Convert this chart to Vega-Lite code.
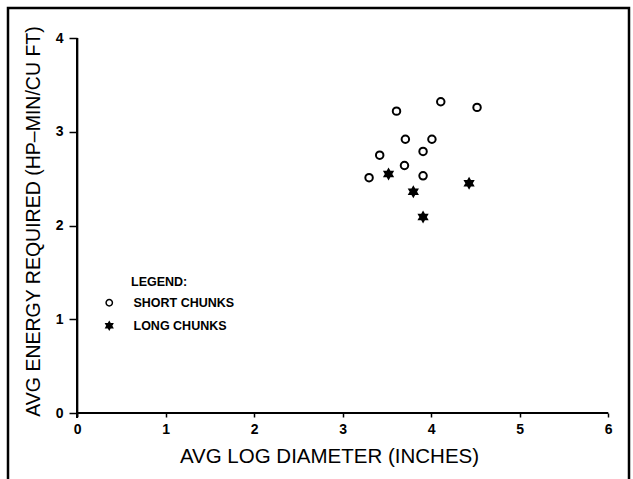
{
  "$schema": "https://vega.github.io/schema/vega-lite/v6.json",
  "width": 621,
  "height": 477,
  "autosize": {"type": "none"},
  "padding": {"left": 8, "top": 8, "right": 4, "bottom": 0},
  "background": "white",
  "config": {
    "view": {"stroke": "black", "strokeWidth": 2.5},
    "axis": {
      "grid": false,
      "domain": false,
      "format": "d",
      "tickColor": "black",
      "tickWidth": 1.5,
      "labelColor": "black",
      "labelFont": "Liberation Sans",
      "labelFontSize": 14,
      "labelFontWeight": "bold",
      "labelFlush": false,
      "titleColor": "black",
      "titleFont": "Liberation Sans",
      "titleFontWeight": "normal"
    }
  },
  "data": {
    "values": [
      {"diameter": 3.61, "energy": 3.22, "series": "SHORT CHUNKS"},
      {"diameter": 4.11, "energy": 3.32, "series": "SHORT CHUNKS"},
      {"diameter": 4.52, "energy": 3.26, "series": "SHORT CHUNKS"},
      {"diameter": 3.71, "energy": 2.92, "series": "SHORT CHUNKS"},
      {"diameter": 4.01, "energy": 2.92, "series": "SHORT CHUNKS"},
      {"diameter": 3.91, "energy": 2.79, "series": "SHORT CHUNKS"},
      {"diameter": 3.42, "energy": 2.75, "series": "SHORT CHUNKS"},
      {"diameter": 3.70, "energy": 2.64, "series": "SHORT CHUNKS"},
      {"diameter": 3.91, "energy": 2.53, "series": "SHORT CHUNKS"},
      {"diameter": 3.30, "energy": 2.51, "series": "SHORT CHUNKS"},
      {"diameter": 3.52, "energy": 2.55, "series": "LONG CHUNKS"},
      {"diameter": 3.80, "energy": 2.36, "series": "LONG CHUNKS"},
      {"diameter": 3.91, "energy": 2.09, "series": "LONG CHUNKS"},
      {"diameter": 4.43, "energy": 2.45, "series": "LONG CHUNKS"}
    ]
  },
  "layer": [
    {
      "mark": {"type": "rule", "color": "black", "strokeWidth": 2},
      "encoding": {
        "x": {"datum": 0, "type": "quantitative"},
        "x2": {"datum": 6},
        "y": {"datum": 0, "type": "quantitative"}
      }
    },
    {
      "mark": {"type": "rule", "color": "black", "strokeWidth": 2},
      "encoding": {
        "x": {"datum": 0, "type": "quantitative"},
        "y": {"datum": -0.05, "type": "quantitative"},
        "y2": {"datum": 4}
      }
    },
    {
      "mark": {"type": "point", "filled": true, "stroke": "black", "strokeWidth": 2, "size": 56, "opacity": 1},
      "encoding": {
        "x": {
          "field": "diameter",
          "type": "quantitative",
          "scale": {"domain": [-0.78, 6.237], "nice": false, "zero": false},
          "axis": {
            "values": [0, 1, 2, 3, 4, 5, 6],
            "offset": -72,
            "tickSize": 4,
            "labelPadding": 5,
            "title": "AVG LOG DIAMETER (INCHES)",
            "titleFontSize": 20.5,
            "titleX": 321,
            "titleY": 49,
            "titleBaseline": "alphabetic"
          }
        },
        "y": {
          "field": "energy",
          "type": "quantitative",
          "scale": {"domain": [-0.768, 4.32], "nice": false, "zero": false},
          "axis": {
            "values": [0, 1, 2, 3, 4],
            "offset": -69,
            "tickSize": 8,
            "labelPadding": 6,
            "title": "AVG ENERGY REQUIRED (HP–MIN/CU FT)",
            "titleFontSize": 19.5,
            "titleX": -38,
            "titleY": 213,
            "titleBaseline": "alphabetic"
          }
        },
        "shape": {
          "field": "series",
          "type": "nominal",
          "scale": {
            "domain": ["SHORT CHUNKS", "LONG CHUNKS"],
            "range": ["circle", "M0,-1.2L0.34,-0.6L1.04,-0.6L0.69,0L1.04,0.6L0.34,0.6L0,1.2L-0.34,0.6L-1.04,0.6L-0.69,0L-1.04,-0.6L-0.34,-0.6Z"]
          },
          "legend": {
            "orient": "none",
            "legendX": 123,
            "legendY": 268,
            "padding": 0,
            "title": "LEGEND:",
            "titleFont": "Liberation Sans",
            "titleFontSize": 12.5,
            "titleFontWeight": "bold",
            "titleColor": "black",
            "titlePadding": 8,
            "labelFont": "Liberation Sans",
            "labelFontSize": 12.5,
            "labelFontWeight": "bold",
            "labelColor": "black",
            "symbolOffset": -28,
            "labelOffset": 18,
            "symbolSize": 40,
            "rowPadding": 9,
            "encode": {"symbols": {"update": {"stroke": {"value": "black"}, "strokeWidth": {"value": 1.6}}}}
          }
        },
        "fill": {
          "field": "series",
          "type": "nominal",
          "scale": {"domain": ["SHORT CHUNKS", "LONG CHUNKS"], "range": ["white", "black"]},
          "legend": {
            "orient": "none",
            "legendX": 123,
            "legendY": 268,
            "padding": 0,
            "title": "LEGEND:",
            "titleFont": "Liberation Sans",
            "titleFontSize": 12.5,
            "titleFontWeight": "bold",
            "titleColor": "black",
            "titlePadding": 8,
            "labelFont": "Liberation Sans",
            "labelFontSize": 12.5,
            "labelFontWeight": "bold",
            "labelColor": "black",
            "symbolOffset": -28,
            "labelOffset": 18,
            "symbolSize": 40,
            "rowPadding": 9,
            "encode": {"symbols": {"update": {"stroke": {"value": "black"}, "strokeWidth": {"value": 1.6}}}}
          }
        }
      }
    }
  ]
}
